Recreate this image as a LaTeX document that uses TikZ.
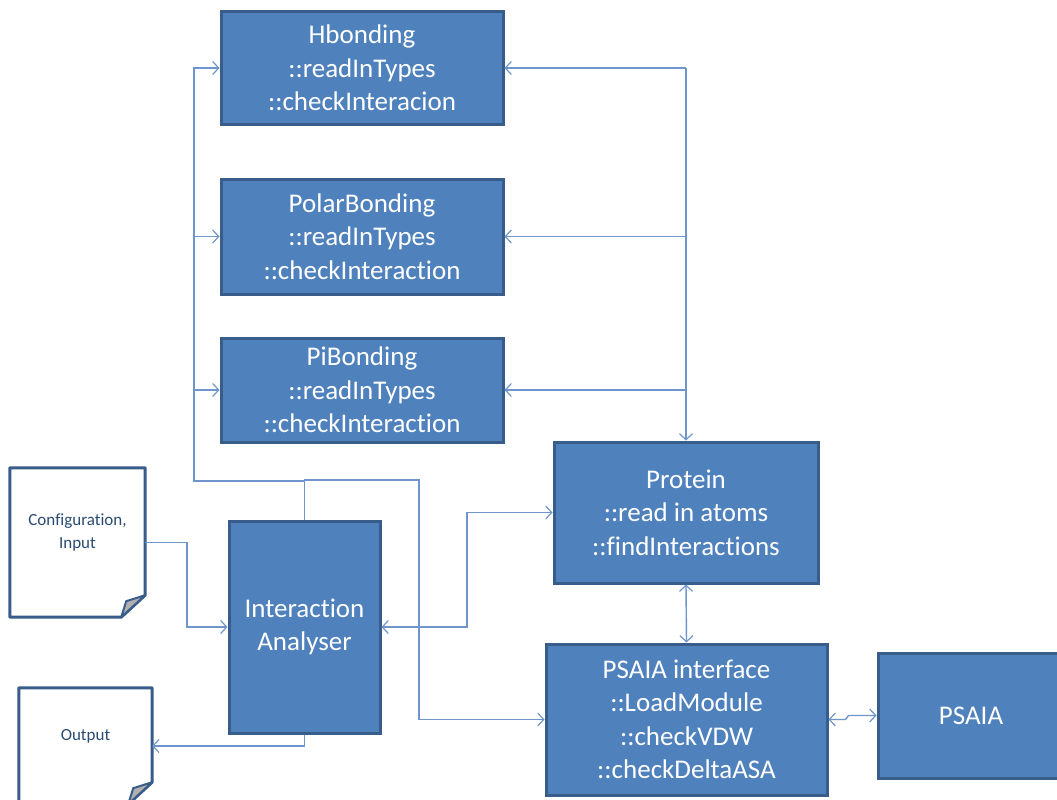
\documentclass[tikz,border=0pt]{standalone}
\usepackage{fontspec}
\setmainfont{Carlito}[RawFeature={-liga;-clig;-dlig;-calt;-hlig}]
\usetikzlibrary{arrows.meta}
\definecolor{boxfill}{HTML}{4F81BD}
\definecolor{boxline}{HTML}{385D8A}
\definecolor{conncol}{HTML}{6F96CC}
\definecolor{doctext}{HTML}{2A4B73}
\definecolor{foldgray}{HTML}{B0B0B0}
\tikzset{
  blockbox/.style={draw=boxline, fill=boxfill, line width=3pt, text=white, align=center,
    inner sep=0pt, font=\fontsize{27}{33.5}\selectfont},
  docarea/.style={inner sep=0pt},
  doclabel/.style={text=doctext, align=center, font=\fontsize{17}{23}\selectfont},
  docline/.style={draw=boxline, line width=3pt, line join=round},
  conn/.style={draw=conncol, line width=1.4pt},
  tip/.style={-{Straight Barb[length=6pt,width=13pt,line width=1.2pt]}},
  bitip/.style={{Straight Barb[length=6pt,width=13pt,line width=1.2pt]}-{Straight Barb[length=6pt,width=13pt,line width=1.2pt]}},
}
\begin{document}
\begin{tikzpicture}[x=1pt,y=-1pt]
\clip (0,0) rectangle (1057,800);
\fill[white] (0,0) rectangle (1057,800);

% blocks
\node[blockbox, minimum width=282pt, minimum height=112pt] (hb) at (362,68) {Hbonding\\::readInTypes\\::checkInteracion};
\node[blockbox, minimum width=282pt, minimum height=115pt] (pb) at (362,236.5) {PolarBonding\\::readInTypes\\::checkInteraction};
\node[blockbox, minimum width=282pt, minimum height=104pt] (pi) at (362,390) {PiBonding\\::readInTypes\\::checkInteraction};
\node[blockbox, minimum width=264pt, minimum height=141pt] (prot) at (686,512.5) {Protein\\::read in atoms\\::findInteractions};
\node[blockbox, minimum width=151pt, minimum height=212pt] (ia) at (304.5,627) {Interaction\\Analyser};
\node[blockbox, minimum width=281pt, minimum height=151pt] (psi) at (686.5,719.5) {PSAIA interface\\::LoadModule\\::checkVDW\\::checkDeltaASA};
\node[blockbox, minimum width=186pt, minimum height=125pt, text width=186pt] (psa) at (971,715.5) {PSAIA};

% documents
\node[docarea, minimum width=135pt, minimum height=149pt] (cfg) at (77.5,542.5) {};
\draw[docline, fill=white] (cfg.north west) -- (cfg.north east) -- ([yshift=22pt]cfg.south east) -- ([xshift=-24pt]cfg.south east) -- (cfg.south west) -- cycle;
\draw[docline, line width=2pt, fill=foldgray] ([yshift=22pt]cfg.south east) -- ([xshift=-19pt,yshift=16pt]cfg.south east) -- ([xshift=-24pt]cfg.south east) -- cycle;
\node[doclabel] (cfgt) at (77.5,533) {Configuration,\\Input};

\node[docarea, minimum width=133pt, minimum height=116pt] (out) at (85.5,746) {};
\draw[docline, fill=white] (out.north west) -- (out.north east) -- ([yshift=22pt]out.south east) -- ([xshift=-24pt]out.south east) -- (out.south west) -- cycle;
\draw[docline, line width=2pt, fill=foldgray] ([yshift=22pt]out.south east) -- ([xshift=-19pt,yshift=16pt]out.south east) -- ([xshift=-24pt]out.south east) -- cycle;
\node[doclabel] (outt) at (85.5,736) {Output};

% junction coordinates
\coordinate (lb) at (194,481);
\coordinate (rj) at (419,480);
\coordinate (rb) at (686,68);
\coordinate (pj) at (467,512.5);
\coordinate (cj) at (187,542.5);

% left bus
\draw[conn, tip] (ia.north) |- (lb) |- (hb.west);
\draw[conn, tip] (lb) |- (pb.west);
\draw[conn, tip] (lb) |- (pi.west);
\draw[conn, tip] (ia.north) |- (rj) |- (psi.west);

% right bus
\draw[conn, tip] (rb) -- (hb.east);
\draw[conn, tip] (rb) -- (prot.north);
\draw[conn, tip] (rb |- pb.east) -- (pb.east);
\draw[conn, tip] (rb |- pi.east) -- (pi.east);

% other links
\draw[conn, bitip] (ia.east) -| (pj) -- (prot.west);
\draw[conn, bitip] (prot.south) -- (psi.north);
\draw[conn, bitip] (psi.east) -- ++(17,0) -- ++(3,-4) -- (psa.west);
\draw[conn, tip] (cfg.east) -- (cj) |- (ia.west);
\draw[conn, tip] (ia.south) |- (out.east);
\end{tikzpicture}
\end{document}
